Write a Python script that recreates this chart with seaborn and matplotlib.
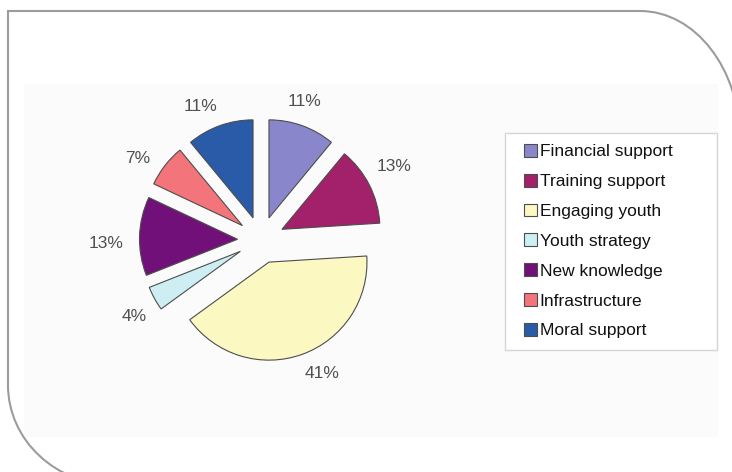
import numpy as np
import matplotlib
matplotlib.use("Agg")
import matplotlib.pyplot as plt
from matplotlib.path import Path
from matplotlib.patches import PathPatch, Rectangle
from matplotlib.transforms import Affine2D
import seaborn as sns

# Survey shares (percent), listed clockwise from 12 o'clock
categories = ["Financial support", "Training support", "Engaging youth",
              "Youth strategy", "New knowledge", "Infrastructure", "Moral support"]
shares = [11, 13, 41, 4, 13, 7, 11]
slice_colors = ["#8A86CC", "#A3206A", "#FBF8C2", "#CDEEF2",
                "#72107A", "#F3747A", "#2A5BA8"]

sns.set_theme(style="white")
plt.rcParams["font.family"] = ["Liberation Sans", "DejaVu Sans"]

W, H = 732, 472
fig = plt.figure(figsize=(W / 100, H / 100), dpi=100)
fig.patch.set_facecolor("white")

# pixel coordinates (origin top-left) -> figure
px = Affine2D().scale(1 / W, -1 / H).translate(0, 1) + fig.transFigure

# faint chart-area background
fig.add_artist(Rectangle((24, 84), 694, 353, transform=px, facecolor="#fbfbfb",
                         edgecolor="none", zorder=-2))

# outer frame with rounded top-right and bottom-left corners
k = 0.5523
verts = [(115, 485),
         (115 - 107 * k, 485), (8, 385 + 100 * k), (8, 385),
         (8, 11),
         (640, 11),
         (640 + 100 * k, 11), (740, 140 - 129 * k), (740, 140)]
codes = [Path.MOVETO,
         Path.CURVE4, Path.CURVE4, Path.CURVE4,
         Path.LINETO,
         Path.LINETO,
         Path.CURVE4, Path.CURVE4, Path.CURVE4]
fig.add_artist(PathPatch(Path(verts, codes), transform=px, fill=False,
                         edgecolor="#9c9c9c", linewidth=1.5, zorder=5))

# legend box
fig.add_artist(Rectangle((505, 133), 212, 217, transform=px, facecolor="white",
                         edgecolor="#d6d6d6", linewidth=1.0, zorder=1))

# pie axes: 1 data unit = 98 px, pie centred at (261, 240) px
R = 98.0
cx, cy = 261.0, 240.0
ax = fig.add_axes([0, 0, 1, 1])
ax.set_zorder(2)
ax.patch.set_alpha(0)

explode = [0.24] * len(shares)
palette = sns.color_palette(slice_colors)
wedges, _ = ax.pie(shares, colors=palette, startangle=90, counterclock=False,
                   explode=explode, radius=1.0, center=(0, 0),
                   wedgeprops=dict(edgecolor="#4d4d4d", linewidth=0.8))
ax.set_xlim(-cx / R, (W - cx) / R)
ax.set_ylim(-(H - cy) / R, cy / R)
ax.set_aspect("auto")
ax.axis("off")

# percentage labels just outside each slice
fig.canvas.draw()
renderer = fig.canvas.get_renderer()
for w, v in zip(wedges, shares):
    mid = np.deg2rad((w.theta1 + w.theta2) / 2 + 4)
    ux, uy = np.cos(mid), np.sin(mid)
    ex, ey = w.center
    t = ax.text(0, 0, f"{v}%", ha="center", va="center", fontsize=12.5,
                color="#505050")
    bb = t.get_window_extent(renderer)
    hw, hh = bb.width / 2 / R, bb.height / 2 / R
    t.set_position((ex + 1.16 * ux + hw * ux, ey + 1.16 * uy + hh * uy))

leg = ax.legend(wedges, categories, loc="upper left",
                bbox_to_anchor=(524, 144), bbox_transform=px,
                frameon=False, fontsize=12.5, handlelength=0.75,
                handleheight=0.75, handletextpad=0.15, labelspacing=0.83,
                borderpad=0, borderaxespad=0)
for txt in leg.get_texts():
    txt.set_color("#111111")

fig.savefig("out.png", dpi=100, facecolor="white")
